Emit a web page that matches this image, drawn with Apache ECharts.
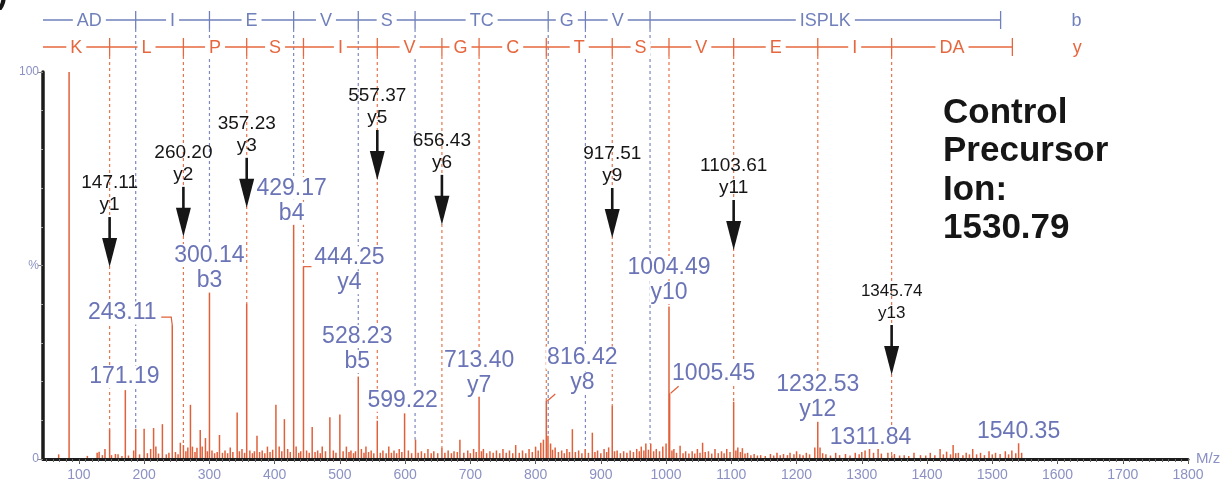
<!DOCTYPE html>
<html>
<head>
<meta charset="utf-8">
<script src="https://cdn.jsdelivr.net/npm/echarts@6/dist/echarts.min.js"></script>
<style>
  html, body { margin: 0; padding: 0; background: #ffffff; }
  #chart { width: 1229px; height: 488px; }
</style>
</head>
<body>
<div id="chart"></div>
<script>
// ---- MS/MS spectrum: m/z and relative intensity (%) ----
const peakMz = [
  69, 85, 113, 128, 131, 136, 140, 147.11, 150, 156, 160, 166, 171.19, 176, 184, 187.07, 193,
  200, 205, 210, 214.5, 218, 222, 228, 234, 238, 243.11, 248, 252, 255.5, 260.20, 264, 267,
  271, 274, 278, 281, 286, 289, 294, 297, 300.14, 304, 308, 312, 315.5, 320, 324, 328, 332,
  336, 342.6, 346, 350, 354, 357.23, 362, 366, 369, 373, 377, 381, 385, 389, 393, 397, 402,
  407, 411, 415, 420, 424, 429.17, 433, 437, 440, 444.25, 449, 453, 457.6, 462, 466, 470, 473,
  478, 484.7, 490, 494, 500, 505, 510, 514, 517, 521, 524, 528.23, 533, 537, 540, 544, 548,
  552, 557.37, 562, 566, 571, 575, 579, 583, 587, 591, 595, 599.22, 605, 610, 616, 620, 625,
  630, 635, 640, 644, 650, 656.43, 661, 666, 671, 675, 680, 684, 690, 696, 700, 705, 709,
  713.40, 717, 720, 725, 730, 735, 740, 745, 750, 755, 760, 765, 769.5, 775, 780, 785, 790,
  795, 800, 804, 808, 812, 816.42, 819, 823, 826, 830, 835, 840, 844, 848, 852, 856.4, 861,
  866, 871, 876, 881, 887, 891, 895, 900, 905, 909, 912, 917.51, 921, 925, 930, 935, 940, 945,
  950, 955, 959, 962, 966, 969, 973, 976.5, 981, 985, 990, 995, 1000, 1004.49, 1005.45, 1009,
  1012, 1016, 1021.5, 1026, 1030, 1035, 1040, 1044, 1048, 1052, 1056, 1060, 1065, 1070, 1075,
  1080, 1085, 1089, 1093, 1098, 1103.61, 1107, 1110, 1114, 1117, 1121, 1125, 1130, 1135, 1140,
  1145, 1152, 1160, 1165, 1170, 1175, 1180, 1186, 1190, 1196, 1200, 1205, 1210, 1215, 1220,
  1228, 1232.53, 1236, 1240, 1245, 1252, 1260, 1266, 1275, 1282, 1290, 1296, 1300, 1305,
  1311.84, 1318, 1325, 1330, 1340, 1346, 1350, 1358, 1365, 1372, 1380, 1390, 1398, 1405, 1412,
  1420, 1425, 1430, 1436, 1440, 1444, 1448, 1455, 1460, 1465, 1470, 1476, 1482, 1488, 1495,
  1500, 1505, 1512, 1520, 1525, 1530, 1536, 1540.35, 1545
];
const peakInt = [
  1.2, 100, 0.8, 1.6, 1.9, 1.0, 2.6, 7.7, 1.0, 1.3, 1.2, 0.8, 17.8, 0.9, 2.2, 7.8, 1.2,
  7.8, 1.5, 2.6, 8.0, 3.2, 1.4, 9.0, 1.2, 1.6, 34.6, 1.8, 1.2, 4.2, 3.6, 2.0, 3.0,
  14.0, 3.2, 1.8, 2.9, 7.5, 3.2, 5.4, 2.0, 43.0, 2.2, 1.5, 1.8, 6.2, 1.6, 2.2, 1.5, 3.0,
  1.8, 12.0, 2.0, 2.6, 1.6, 40.2, 2.2, 1.5, 2.0, 6.0, 1.8, 2.2, 1.5, 3.2, 1.8, 2.4, 14.0,
  3.2, 2.0, 10.3, 2.6, 1.8, 60.9, 3.2, 1.6, 2.0, 49.7, 2.2, 1.6, 8.3, 1.8, 2.2, 1.5, 3.2,
  2.0, 10.8, 2.2, 1.6, 11.5, 2.0, 3.2, 1.8, 2.2, 1.5, 2.0, 21.3, 2.6, 1.6, 3.2, 1.8, 2.2,
  1.5, 9.9, 1.6, 2.2, 1.5, 3.2, 1.6, 2.2, 1.5, 2.6, 1.8, 11.8, 2.2, 1.5, 5.0, 1.6, 2.0,
  1.5, 2.6, 1.5, 2.0, 1.5, 3.0, 1.6, 2.2, 1.5, 2.0, 1.8, 5.0, 1.6, 2.2, 1.5, 2.6, 1.8,
  17.0, 2.0, 2.6, 1.5, 2.0, 1.6, 2.2, 1.5, 2.6, 1.6, 2.2, 1.5, 3.6, 1.6, 2.2, 1.5, 2.6,
  1.8, 3.2, 2.2, 4.2, 5.0, 15.0, 6.0, 4.0, 2.4, 3.0, 1.8, 2.2, 1.5, 2.6, 1.8, 7.7, 1.8,
  2.2, 1.5, 2.6, 1.6, 6.8, 1.8, 2.2, 1.5, 2.6, 1.8, 3.0, 13.7, 2.0, 2.2, 1.5, 2.0, 1.6, 2.2,
  1.8, 2.6, 2.0, 3.2, 2.2, 4.0, 2.4, 4.0, 2.0, 2.6, 2.0, 3.2, 4.0, 39.4, 17.0, 2.2,
  2.6, 1.6, 3.4, 1.5, 2.0, 1.4, 2.0, 1.4, 2.6, 1.6, 4.2, 1.8, 2.0, 1.4, 2.6,
  1.5, 2.0, 1.5, 2.6, 1.8, 14.8, 2.2, 3.0, 1.8, 2.8, 1.4, 1.6, 1.0, 1.3, 0.9,
  1.0, 0.8, 1.3, 0.9, 1.6, 1.0, 1.3, 1.0, 1.6, 1.2, 2.0, 1.2, 1.0, 1.6, 1.2,
  3.0, 9.6, 3.0, 1.5, 1.2, 0.9, 1.6, 1.0, 1.3, 0.9, 1.6, 1.2, 1.8, 2.2,
  4.0, 1.6, 2.6, 1.4, 1.6, 1.0, 1.3, 0.9, 1.0, 0.8, 1.6, 1.0, 0.9, 1.6, 1.0,
  2.6, 1.2, 1.9, 1.2, 3.6, 1.5, 1.6, 1.0, 1.6, 1.2, 2.6, 1.2, 1.6, 1.0, 2.0,
  1.2, 1.6, 1.3, 2.0, 1.2, 2.2, 1.5, 4.2, 1.6
];

// ---- fragment ladders (ADIEVSTCGVISPLK) ----
const bResidues = ['AD', 'I', 'E', 'V', 'S', 'TC', 'G', 'V', 'ISPLK'];
const bIonMz = [187.07, 300.14, 429.17, 528.23, 615.29, 819.35, 876.37, 975.44, 1512.78];
const yResidues = ['K', 'L', 'P', 'S', 'I', 'V', 'G', 'C', 'T', 'S', 'V', 'E', 'I', 'DA'];
const yIonMz = [147.11, 260.20, 357.23, 444.25, 557.37, 656.43, 713.40, 816.42, 917.51,
                1004.49, 1103.61, 1232.53, 1345.74, 1530.79];

// ---- y ions marked with arrows ----
const arrowIonMz = [147.11, 260.20, 357.23, 557.37, 656.43, 917.51, 1103.61, 1345.74];
const arrowIonName = ['y1', 'y2', 'y3', 'y5', 'y6', 'y9', 'y11', 'y13'];

// ---- peaks annotated with their m/z ----
const labelMz = [171.19, 243.11, 300.14, 429.17, 444.25, 528.23, 599.22, 713.40, 816.42,
                 1004.49, 1005.45, 1232.53, 1311.84, 1540.35];
const labelIon = ['', '', 'b3', 'b4', 'y4', 'b5', '', 'y7', 'y8', 'y10', '', 'y12', '', ''];

const precursorMz = 1530.79;

// ---- axis ticks ----
const xTickValues = [100, 200, 300, 400, 500, 600, 700, 800, 900, 1000, 1100, 1200, 1300,
                     1400, 1500, 1600, 1700, 1800];
const xMinorTicks = [];
for (let v = 50; v <= 1800; v += 10) xMinorTicks.push(v);

// ---- layout (pixel offsets and anchor levels for annotations) ----
const arrowTipLevel = [49.6, 57.4, 64.9, 72.1, 60.5, 57.1, 54.0, 21.7];
// offset of the lowest label line's centre from the peak top, and leader style
const labelLayout = [
  { dx: -1, dy: -13 }, { dx: -50, dy: -12, leader: 'left' }, { dx: 0, dy: -12 },
  { dx: -2, dy: -10 }, { dx: 46, dy: 16, leader: 'right' }, { dx: -1, dy: -15 },
  { dx: -2, dy: -13 }, { dx: 0, dy: -8 }, { dx: 36, dy: -18, leader: 'diag' },
  { dx: 0, dy: -14 }, { dx: 44, dy: -20, leader: 'diag' }, { dx: 0, dy: -12 },
  { dx: 1, dy: -6 }, { dx: 0, dy: -11 }
];

const FONT = '"Liberation Sans", Arial, Helvetica, sans-serif';
const PEAK = '#e0603a';
const LABEL_BLUE = '#6a74b6';
const LADDER_BLUE = '#7080bb';
const LADDER_RED = '#e6673e';
const DASH_RED = '#e8744c';
const DASH_BLUE = '#7d88bd';
const AXIS_TEXT = '#8b91c3';
const BLUE_ROW_OFFSET = 52;  // above the plot top
const RED_ROW_OFFSET = 25;

// tallest peak within ±1.2 of a fragment m/z
function intensityNear(mz) {
  let best = 0;
  peakMz.forEach((m, i) => {
    if (Math.abs(m - mz) <= 1.2 && peakInt[i] > best) best = peakInt[i];
  });
  return best;
}
function intensityOf(mz) {
  const i = peakMz.indexOf(mz);
  return i >= 0 ? peakInt[i] : intensityNear(mz);
}

const spectrumData = peakMz.map((m, i) => [m, peakInt[i]]);

// ladder segments: [from m/z, to m/z, index, row]
const ladderData = [];
bIonMz.forEach((m, i) => ladderData.push([i === 0 ? 45 : bIonMz[i - 1], m, i, 0]));
yIonMz.forEach((m, i) => ladderData.push([i === 0 ? 45 : yIonMz[i - 1], m, i, 1]));

// dashed connectors from the ladder down to the fragment peaks
const linkData = [];
bIonMz.slice(0, -1).forEach(m => linkData.push([m, intensityNear(m), 0]));
yIonMz.slice(0, -1).forEach(m => linkData.push([m, intensityNear(m), 1]));

const arrowData = arrowIonMz.map((m, i) => [m, arrowTipLevel[i], i]);
const labelData = labelMz.map((m, i) => [m, intensityOf(m), i]);

const chart = echarts.init(document.getElementById('chart'), null, { renderer: 'canvas' });

chart.setOption({
  animation: false,
  backgroundColor: '#ffffff',
  grid: { left: 43, right: 41, top: 72, bottom: 29, containLabel: false },
  xAxis: [{
    type: 'value', min: 45, max: 1800,
    name: 'M/z', nameLocation: 'end', nameGap: 8,
    nameTextStyle: { color: AXIS_TEXT, fontSize: 15, fontFamily: FONT, verticalAlign: 'middle', padding: [4, 0, 0, 0] },
    axisLine: { show: true, onZero: false, lineStyle: { color: '#1c1c1c', width: 3 } },
    axisTick: { show: true, customValues: xTickValues, length: 5, lineStyle: { color: '#555', width: 1 } },
    axisLabel: {
      customValues: xTickValues, color: AXIS_TEXT, fontSize: 14, fontFamily: FONT, margin: 9,
      formatter: v => String(v)
    },
    splitLine: { show: false }
  }, {
    type: 'value', min: 45, max: 1800, position: 'bottom',
    axisLine: { show: false },
    axisTick: { show: true, customValues: xMinorTicks, length: 3, lineStyle: { color: '#666', width: 1 } },
    axisLabel: { show: false },
    splitLine: { show: false }
  }],
  yAxis: {
    type: 'value', min: 0, max: 100, interval: 50,
    axisLine: { show: true, onZero: false, lineStyle: { color: '#1c1c1c', width: 3.5 } },
    axisTick: { show: true, length: 5, lineStyle: { color: '#888', width: 1 } },
    minorTick: { show: true, splitNumber: 5, length: 2, lineStyle: { color: '#aaa' } },
    axisLabel: {
      color: AXIS_TEXT, fontSize: 12, fontFamily: FONT, margin: 4,
      formatter: v => (v === 100 ? '100' : v === 50 ? '%' : v === 0 ? '0' : '')
    },
    splitLine: { show: false }, minorSplitLine: { show: false }
  },
  series: [
    {
      // connectors between the sequence ladders and the fragment peaks
      type: 'custom', name: 'links', silent: true, z: 2,
      data: linkData,
      renderItem(params, api) {
        const row = api.value(2);
        const p = api.coord([api.value(0), api.value(1)]);
        const top = params.coordSys.y - (row === 0 ? BLUE_ROW_OFFSET : RED_ROW_OFFSET) + 9;
        return {
          type: 'line',
          shape: { x1: p[0], y1: top, x2: p[0], y2: p[1] },
          style: { stroke: row === 0 ? DASH_BLUE : DASH_RED, lineWidth: 1.2, lineDash: [3, 3] }
        };
      }
    },
    {
      // spectrum sticks
      type: 'custom', name: 'spectrum', silent: true, z: 3,
      data: spectrumData,
      renderItem(params, api) {
        const b = api.coord([api.value(0), 0]);
        const t = api.coord([api.value(0), api.value(1)]);
        return {
          type: 'line',
          shape: { x1: b[0], y1: b[1] - 1, x2: t[0], y2: t[1] },
          style: { stroke: PEAK, lineWidth: 1.5 }
        };
      }
    },
    {
      // m/z annotations in blue
      type: 'custom', name: 'peakLabels', silent: true, z: 5,
      data: labelData,
      renderItem(params, api) {
        const i = api.value(2);
        const lay = labelLayout[i];
        const p = api.coord([api.value(0), api.value(1)]);
        const cx = p[0] + lay.dx;
        const ly = p[1] + lay.dy;
        const textStyle = (text, y) => ({
          type: 'text', z2: 10,
          style: {
            text, x: cx, y, align: 'center', verticalAlign: 'middle',
            fill: LABEL_BLUE, fontSize: 23, fontFamily: FONT,
            backgroundColor: '#ffffff', padding: [0, 1]
          }
        });
        const children = [];
        if (labelIon[i]) {
          children.push(textStyle(labelIon[i], ly));
          children.push(textStyle(labelMz[i].toFixed(2), ly - 25));
        } else {
          children.push(textStyle(labelMz[i].toFixed(2), ly));
        }
        let pts = null;
        if (lay.leader === 'left') pts = [[p[0] - 11, p[1] - 8], [p[0] - 1, p[1] - 8], [p[0], p[1]]];
        if (lay.leader === 'right') pts = [[p[0], p[1]], [p[0] + 8, p[1]]];
        if (lay.leader === 'diag') pts = [[p[0] + 1, p[1]], [p[0] + 9, p[1] - 7]];
        if (pts) children.push({ type: 'polyline', shape: { points: pts }, style: { stroke: PEAK, lineWidth: 1.2, fill: null } });
        return { type: 'group', children };
      }
    },
    {
      // sequence ladders (b above, y below)
      type: 'custom', name: 'ladder', silent: true, z: 6,
      data: ladderData,
      renderItem(params, api) {
        const i = api.value(2);
        const row = api.value(3);
        const residues = row === 0 ? bResidues : yResidues;
        const color = row === 0 ? LADDER_BLUE : LADDER_RED;
        const y = params.coordSys.y - (row === 0 ? BLUE_ROW_OFFSET : RED_ROW_OFFSET);
        const x0 = api.coord([api.value(0), 0])[0];
        const x1 = api.coord([api.value(1), 0])[0];
        const children = [
          { type: 'line', shape: { x1: x0, y1: y, x2: x1, y2: y }, style: { stroke: color, lineWidth: 1.3 } },
          { type: 'line', shape: { x1: x1, y1: y - 9, x2: x1, y2: y + 9 }, style: { stroke: color, lineWidth: 1.3 } },
          {
            type: 'text', z2: 10,
            style: {
              text: residues[i], x: (x0 + x1) / 2, y: y + 1, align: 'center', verticalAlign: 'middle',
              fill: color, fontSize: 18, fontFamily: FONT, backgroundColor: '#ffffff', padding: [0, 4]
            }
          }
        ];
        if (i === residues.length - 1) {
          children.push({
            type: 'text',
            style: {
              text: row === 0 ? 'b' : 'y', x: x1 + (row === 0 ? 76 : 65), y: y + 1,
              align: 'center', verticalAlign: 'middle', fill: color, fontSize: 18, fontFamily: FONT
            }
          });
        }
        return { type: 'group', children };
      }
    },
    {
      // arrows marking y-ion fragments
      type: 'custom', name: 'arrows', silent: true, z: 7,
      data: arrowData,
      renderItem(params, api) {
        const i = api.value(2);
        const p = api.coord([api.value(0), api.value(1)]);
        const x = p[0], tip = p[1];
        const fs = i === arrowIonMz.length - 1 ? 17 : 19;
        return {
          type: 'group',
          children: [
            { type: 'line', shape: { x1: x, y1: tip - 50, x2: x, y2: tip - 24 }, style: { stroke: '#161616', lineWidth: 2.6 } },
            { type: 'polygon', shape: { points: [[x - 7.5, tip - 29], [x + 7.5, tip - 29], [x, tip]] }, style: { fill: '#161616' } },
            { type: 'text', style: { text: arrowIonName[i], x, y: tip - 62, align: 'center', verticalAlign: 'middle', fill: '#161616', fontSize: fs, fontFamily: FONT } },
            { type: 'text', style: { text: arrowIonMz[i].toFixed(2), x, y: tip - 84, align: 'center', verticalAlign: 'middle', fill: '#161616', fontSize: fs, fontFamily: FONT } }
          ]
        };
      }
    }
  ],
  graphic: [
    {
      type: 'text', left: 943, top: 94, silent: true,
      style: {
        text: 'Control\nPrecursor\nIon:\n' + precursorMz.toFixed(2),
        fill: '#161616', fontSize: 35, fontWeight: 'bold', fontFamily: FONT, lineHeight: 38.5
      }
    },
    {
      type: 'text', left: -3, top: -22, silent: true,
      style: { text: ')', fill: '#161616', fontSize: 32, fontWeight: 'bold', fontFamily: FONT }
    }
  ]
});
</script>
</body>
</html>
